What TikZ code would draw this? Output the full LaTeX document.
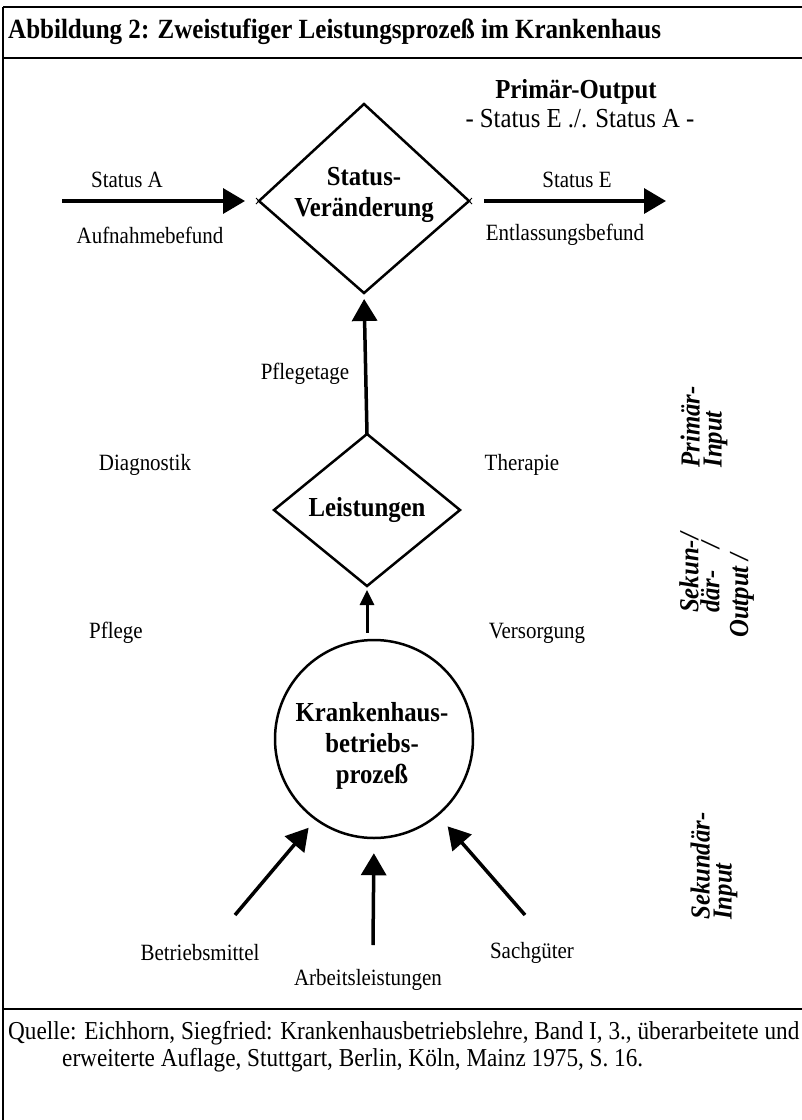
\documentclass[tikz,border=0pt]{standalone}
\usepackage{fontspec}
\setmainfont{Liberation Serif}[FakeStretch=0.9]
\usetikzlibrary{arrows.meta}
\begin{document}
\begin{tikzpicture}[x=1pt,y=-1pt,
  lbl/.style={font=\fontsize{23.3}{28}\selectfont, inner sep=0pt},
  blbl/.style={font=\fontsize{27.5}{31}\selectfont\bfseries, inner sep=0pt, align=center},
  side/.style={font=\fontsize{27.5}{22}\selectfont\bfseries\itshape, inner sep=0pt, rotate=90, align=left},
  frameline/.style={line width=2.5pt},
  shapeline/.style={line width=2.5pt, line join=miter},
  bigarrow/.style={line width=3.5pt, -{Triangle[length=22pt,width=25pt]}},
  smallarrow/.style={line width=3pt, -{Triangle[length=15pt,width=14pt]}},
  tick/.style={line width=1pt},
]
\useasboundingbox (0,0) rectangle (802,1120);

% frame
\draw[frameline] (3,7) -- (802,7);
\draw[frameline] (3,58) -- (802,58);
\draw[frameline] (3,1009) -- (802,1009);
\draw[frameline] (3,7) -- (3,1120);

% title
\node[anchor=base west, inner sep=0pt, font=\fontsize{27.8}{30}\selectfont\bfseries] (title) at (8,38)
  {Abbildung 2: Zweistufiger Leistungsprozeß im Krankenhaus};

% primary output
\node[blbl] (po1) at (576,92) {Primär-Output};
\node[inner sep=0pt, font=\fontsize{27.5}{30}\selectfont] (po2) at (580,119) {- Status E ./. Status A -};

% top diamond
\coordinate (dtT) at (364,104);
\coordinate (dtR) at (469,201);
\coordinate (dtB) at (364,293);
\coordinate (dtL) at (259,201);
\draw[shapeline] (dtT) -- (dtR) -- (dtB) -- (dtL) -- cycle;
\node[blbl] (sv) at (364,195) {Status-\\Veränderung};
\draw[tick] ([shift={(-3,-3)}]dtL) -- ([shift={(3,3)}]dtL);
\draw[tick] ([shift={(-3,3)}]dtL) -- ([shift={(3,-3)}]dtL);
\draw[tick] ([shift={(-3,-3)}]dtR) -- ([shift={(3,3)}]dtR);
\draw[tick] ([shift={(-3,3)}]dtR) -- ([shift={(3,-3)}]dtR);

% status arrows
\coordinate (aA) at (62,201);
\coordinate (aE) at (666,201);
\draw[bigarrow, shorten >=14pt] (aA) -- (dtL);
\draw[bigarrow, shorten <=15pt] (dtR) -- (aE);
\node[lbl] (sa) at (127,180) {Status A};
\node[lbl] (se) at (577,180) {Status E};
\node[lbl] (ab) at (150,235) {Aufnahmebefund};
\node[lbl] (eb) at (565,235) {Entlassungsbefund};

% Leistungen diamond
\coordinate (ldT) at (367,434);
\coordinate (ldR) at (460,510);
\coordinate (ldB) at (367,586);
\coordinate (ldL) at (274,510);
\draw[shapeline] (ldT) -- (ldR) -- (ldB) -- (ldL) -- cycle;
\node[blbl] (lt) at (367,510) {Leistungen};

\draw[bigarrow, shorten >=6pt] (ldT) -- (dtB);
\node[lbl] (pt) at (305,374) {Pflegetage};
\node[lbl] (dg) at (145,465) {Diagnostik};
\node[lbl] (th) at (522,465) {Therapie};
\node[lbl] (pf) at (116,633) {Pflege};
\node[lbl] (vs) at (537,633) {Versorgung};

% circle
\node[draw, circle, line width=2.5pt, minimum size=198pt, inner sep=0pt] (circ) at (374,739) {};
\node[blbl] (kb) at (372,746) {Krankenhaus-\\betriebs-\\prozeß};
\draw[smallarrow, shorten <=6pt, shorten >=4pt] (circ.north -| ldB) -- (ldB);

% inputs
\coordinate (tBm) at (235,915);
\coordinate (tAl) at (373,945);
\coordinate (tSg) at (525,915);
\draw[bigarrow, shorten >=10pt] (tBm) -- (circ.234);
\draw[bigarrow, shorten >=14pt] (tAl) -- (circ.270);
\draw[bigarrow, shorten >=14pt] (tSg) -- (circ.310);
\node[lbl] (bm) at (200,953) {Betriebsmittel};
\node[lbl] (al) at (368,980) {Arbeitsleistungen};
\node[lbl] (sg) at (532,953) {Sachgüter};

% side labels
\node[side] (pi) at (704,427) {Primär-\\Input};
\node[side, anchor=west] (s1) at (689,613) {Sekun-/};
\node[side, anchor=west] (s2) at (710,613) {där-\hspace{22pt}/};
\node[side, anchor=west] (s3) at (742,638) {Output /};
\node[side] (si) at (714,866) {Sekundär-\\Input};

% source
\node[anchor=base west, inner sep=0pt, font=\fontsize{25.8}{28}\selectfont] (q1) at (8,1039)
  {Quelle: Eichhorn, Siegfried: Krankenhausbetriebslehre, Band I, 3., überarbeitete und};
\node[anchor=base west, inner sep=0pt, font=\fontsize{25.8}{28}\selectfont] (q2) at (62,1066)
  {erweiterte Auflage, Stuttgart, Berlin, Köln, Mainz 1975, S. 16.};
\end{tikzpicture}
\end{document}
